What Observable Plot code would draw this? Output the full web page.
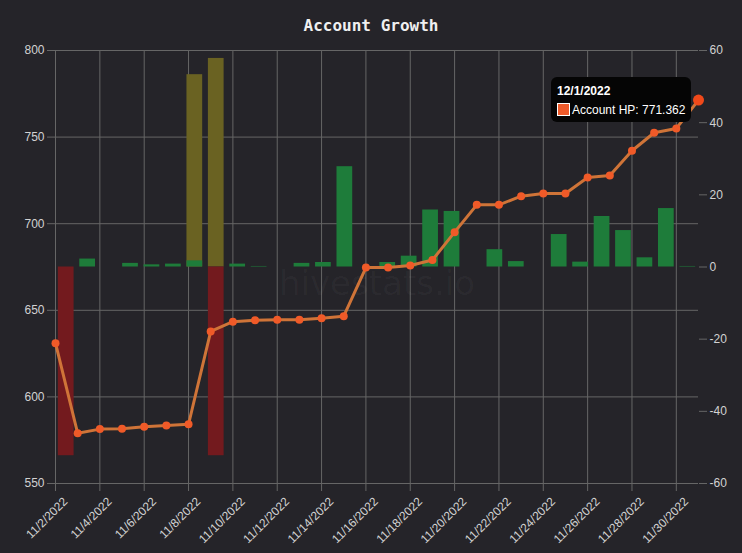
<!DOCTYPE html>
<html>
<head>
<meta charset="utf-8">
<script src="https://cdn.jsdelivr.net/npm/d3@7"></script>
<script src="https://cdn.jsdelivr.net/npm/@observablehq/plot@0.6"></script>
<style>
html, body { margin: 0; padding: 0; background: #252429; }
#wrap { position: relative; width: 742px; height: 553px; background: #252429; overflow: hidden; }
#title { height: 40px; text-align: center; color: #f0f0f0; font: bold 16px "DejaVu Sans Mono", monospace; line-height: 16px; box-sizing: border-box; }
#title span { position: relative; top: 18px; }
#chart svg { display: block; }
#tip { position: absolute; background: #050505; border-radius: 6px; width: 140px; height: 45px; box-sizing: border-box; font-family: "Liberation Sans", Arial, sans-serif; color: #fff; }
#tip .t { position: absolute; left: 6px; top: 7px; font-weight: bold; font-size: 12px; }
#tip .sw { position: absolute; left: 6px; top: 26px; width: 13px; height: 13px; box-sizing: border-box; background: #ee5a2a; border: 1.5px solid #fff; }
#tip .v { position: absolute; left: 21px; top: 26px; font-size: 12px; white-space: nowrap; }
</style>
</head>
<body>
<div id="wrap">
  <div id="title"><span>Account Growth</span></div>
  <div id="chart"></div>
  <div id="tip"><div class="t"></div><div class="sw"></div><div class="v"></div></div>
</div>
<script>
// ---- data ----
const dates = ["2022-11-02","2022-11-03","2022-11-04","2022-11-05","2022-11-06","2022-11-07","2022-11-08","2022-11-09","2022-11-10","2022-11-11",
               "2022-11-12","2022-11-13","2022-11-14","2022-11-15","2022-11-16","2022-11-17","2022-11-18","2022-11-19","2022-11-20","2022-11-21",
               "2022-11-22","2022-11-23","2022-11-24","2022-11-25","2022-11-26","2022-11-27","2022-11-28","2022-11-29","2022-11-30","2022-12-01"];
const accountHP = [631, 579, 581.4, 581.6, 582.7, 583.5, 584.2, 637.8, 643.4, 644.3,
                   644.5, 644.5, 645.4, 646.6, 674.7, 674.7, 675.9, 679, 695.1, 710.9,
                   710.9, 715.9, 717.4, 717.4, 726.7, 727.8, 742.1, 752.5, 755, 771.362];
const greenBars = [0, 2.2, 0, 1.0, 0.6, 0.8, 1.7, 0, 0.8, 0.15,
                   0, 1.0, 1.25, 27.8, 0, 1.25, 3.0, 15.8, 15.4, 0,
                   4.8, 1.5, 0, 9.0, 1.35, 14.0, 10.1, 2.55, 16.2, 0.15];
const yellowBars = [0, 0, 0, 0, 0, 0, 53.3, 57.8, 0, 0,
                    0, 0, 0, 0, 0, 0, 0, 0, 0, 0,
                    0, 0, 0, 0, 0, 0, 0, 0, 0, 0];
const redBars = [-52.3, 0, 0, 0, 0, 0, 0, -52.3, 0, 0,
                 0, 0, 0, 0, 0, 0, 0, 0, 0, 0,
                 0, 0, 0, 0, 0, 0, 0, 0, 0, 0];
const leftTicks = [550, 600, 650, 700, 750, 800];
const rightTicks = [-60, -40, -20, 0, 20, 40, 60];
const xTicks = ["2022-11-02","2022-11-04","2022-11-06","2022-11-08","2022-11-10","2022-11-12","2022-11-14","2022-11-16",
                "2022-11-18","2022-11-20","2022-11-22","2022-11-24","2022-11-26","2022-11-28","2022-11-30"];
const seriesName = "Account HP";
const watermark = "hivestats.io";

// ---- derived ----
const parse = s => new Date(s + "T00:00:00Z");
const fmt = d => `${d.getUTCMonth() + 1}/${d.getUTCDate()}/${d.getUTCFullYear()}`;
const toLeft = d3.scaleLinear([rightTicks[0], rightTicks[rightTicks.length - 1]], [leftTicks[0], leftTicks[leftTicks.length - 1]]);
const t0 = parse(dates[0]).getTime(), t1 = parse(dates[dates.length - 1]).getTime();
const band = (t1 - t0) / dates.length;
const line = dates.map((d, i) => ({date: parse(d), hp: accountHP[i]}));
function barRows(vals) {
  return vals.map((v, i) => ({x1: new Date(t0 + i * band), x2: new Date(t0 + (i + 1) * band), y1: toLeft(0), y2: toLeft(v), v}))
             .filter(r => r.v !== 0);
}
const gridColor = "#666";
const textColor = "#d2d2d2";
const font = "'Liberation Sans', Arial, sans-serif";

const plot = Plot.plot({
  width: 742,
  height: 513,
  marginTop: 10,
  marginBottom: 70,
  marginLeft: 55,
  marginRight: 44,
  style: {background: "transparent", color: textColor, fontSize: "12px", fontFamily: font},
  x: {type: "utc", domain: [parse(dates[0]), parse(dates[dates.length - 1])]},
  y: {domain: [leftTicks[0], leftTicks[leftTicks.length - 1]]},
  marks: [
    Plot.gridY(leftTicks, {stroke: gridColor, strokeOpacity: 1}),
    Plot.gridX(xTicks.map(parse), {stroke: gridColor, strokeOpacity: 1}),
    Plot.text([watermark], {frameAnchor: "middle", dy: 17, fontSize: 34, fontFamily: "DejaVu Sans", fill: "#fff", fillOpacity: 0.035}),
    Plot.rect(barRows(yellowBars), {x1: "x1", x2: "x2", y1: "y1", y2: "y2", fill: "#6a6222", insetLeft: 2.85, insetRight: 2.85}),
    Plot.rect(barRows(greenBars), {x1: "x1", x2: "x2", y1: "y1", y2: "y2", fill: "#1e7c3a", insetLeft: 2.85, insetRight: 2.85}),
    Plot.rect(barRows(redBars), {x1: "x1", x2: "x2", y1: "y1", y2: "y2", fill: "#731a1e", insetLeft: 2.85, insetRight: 2.85}),
    Plot.line(line, {x: "date", y: "hp", stroke: "#cf7438", strokeWidth: 3}),
    Plot.dot(line.slice(0, -1), {x: "date", y: "hp", r: 4, fill: "#f05a28", stroke: "none"}),
    Plot.dot(line.slice(-1), {x: "date", y: "hp", r: 5.5, fill: "#f0491a", stroke: "none"}),
    Plot.axisY(leftTicks, {anchor: "left", tickSize: 8, tickPadding: 3, stroke: gridColor, fill: textColor, label: null}),
    Plot.axisY(rightTicks.map(toLeft), {anchor: "right", tickSize: 8, tickPadding: 3, stroke: gridColor, fill: textColor, label: null,
      tickFormat: v => String(Math.round(toLeft.invert(v)))}),
    Plot.axisX(xTicks.map(parse), {anchor: "bottom", tickSize: 8, stroke: gridColor, label: null, tickFormat: () => ""}),
    Plot.axisX(xTicks.map(parse), {anchor: "bottom", tickSize: 0, tickPadding: 0, dx: 10, dy: 16, tickRotate: -45, fill: textColor, label: null,
      tickFormat: fmt})
  ]
});
document.getElementById("chart").appendChild(plot);

// tooltip anchored to the last point through the plot's scales
const last = line[line.length - 1];
const px = plot.scale("x").apply(last.date);
const py = plot.scale("y").apply(last.hp) + 40;
const tip = document.getElementById("tip");
tip.style.left = (px - 7 - 140) + "px";
tip.style.top = (py - 22.5) + "px";
tip.querySelector(".t").textContent = fmt(last.date);
tip.querySelector(".v").textContent = `${seriesName}: ${last.hp}`;
</script>
</body>
</html>
